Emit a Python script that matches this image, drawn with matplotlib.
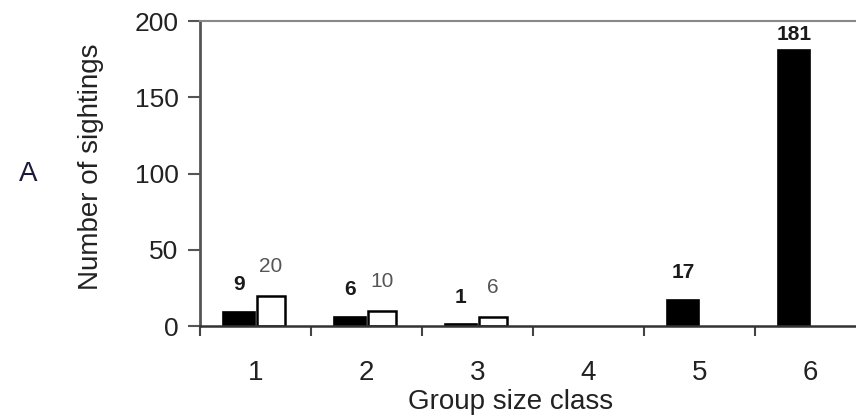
import matplotlib.pyplot as plt
import numpy as np

plt.rcParams['font.family'] = ['Liberation Sans', 'DejaVu Sans']

# data
classes = ['1', '2', '3', '4', '5', '6']
black_vals = [9, 6, 1, 0, 17, 181]
white_vals = [20, 10, 6, 0, 0, 0]
black_labels = ['9', '6', '1', '', '17', '181']
white_labels = ['20', '10', '6', '', '', '']

x = np.arange(1, len(classes) + 1)

fig = plt.figure(figsize=(8.56, 4.16), dpi=100)
ax = fig.add_axes([0.2336, 0.2163, 0.778, 0.7332])

bv = np.array(black_vals)
wv = np.array(white_vals)
hb = bv > 0
hw = wv > 0
ax.bar(x[hb] - 0.15, bv[hb], width=0.29, color='black', edgecolor='black', linewidth=1.2)
ax.bar(x[hw] + 0.14, wv[hw], width=0.26, color='white', edgecolor='black', linewidth=1.8)

for xi, v, lab in zip(x, black_vals, black_labels):
    if lab:
        ax.text(xi - 0.15, min(v + 18, 191), lab, ha='center', va='center',
                fontsize=15, fontweight='bold', color='#1a1a1a')
for xi, v, lab in zip(x, white_vals, white_labels):
    if lab:
        ax.text(xi + 0.14, v + 19, lab, ha='center', va='center',
                fontsize=15, color='#555555')

ax.set_xlim(0.5, 6.5)
ax.set_ylim(0, 200)
ax.set_yticks([0, 50, 100, 150, 200])
ax.set_xticks(x)
ax.set_xticklabels(classes)
ax.set_xticks(np.arange(0.5, 7, 1), minor=True)
ax.tick_params(axis='x', which='major', length=0, pad=34, labelsize=20, labelcolor='#222222')
ax.tick_params(axis='x', which='minor', length=7, width=1.5, direction='out', color='#444444')
ax.tick_params(axis='y', length=8.5, width=1.5, direction='out', pad=7,
               labelsize=19, color='#555555', labelcolor='#222222')
for t in ax.get_xticklabels():
    t.set_va('center')

ax.spines['left'].set_color('#555555')
ax.spines['left'].set_linewidth(2)
ax.spines['bottom'].set_color('#333333')
ax.spines['bottom'].set_linewidth(1.8)
ax.spines['top'].set_color('#888888')
ax.spines['top'].set_linewidth(1.5)
ax.spines['right'].set_visible(False)

ax.set_xlabel('Group size class', fontsize=20, color='#222222', va='center')
ax.xaxis.set_label_coords(0.467, -0.249)
ax.set_ylabel('Number of sightings', fontsize=20, color='#222222', va='center')
ax.yaxis.set_label_coords(-0.163, 0.521)

fig.text(28 / 856, 1 - 174 / 416, 'A', fontsize=20, color='#1a1a3a', ha='center', va='center')

fig.savefig('out.png', dpi=100)
